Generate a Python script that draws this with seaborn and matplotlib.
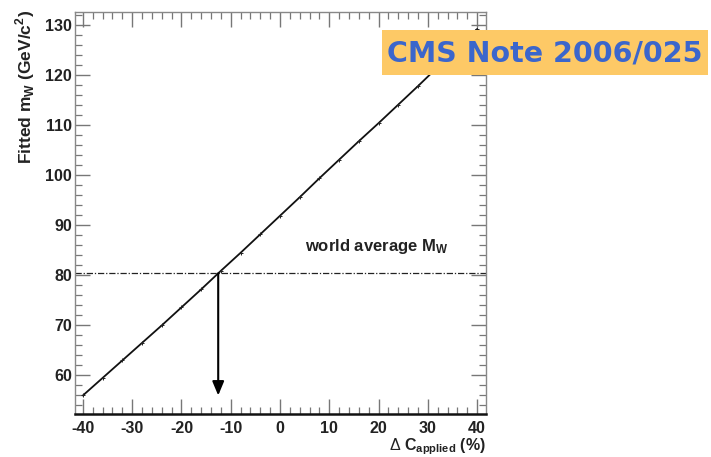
import numpy as np
import pandas as pd
import matplotlib
matplotlib.use("Agg")
import matplotlib.pyplot as plt
from matplotlib.patches import Rectangle
from matplotlib.ticker import MultipleLocator
import seaborn as sns

# Calibration scan: applied jet-energy shift vs. fitted W mass
delta_c_applied = [-40, -36, -32, -28, -24, -20, -16, -12, -8, -4, 0,
                   4, 8, 12, 16, 20, 24, 28, 32, 36, 40]
fitted_mw = [56.0, 59.5, 63.0, 66.5, 70.0, 73.6, 77.2, 80.9, 84.5, 88.2, 91.9,
             95.6, 99.4, 103.1, 106.8, 110.4, 114.1, 117.8, 121.6, 125.4, 129.2]
world_avg_mw = 80.4
arrow_end_mw = 56.0

x_ticks = [-40, -30, -20, -10, 0, 10, 20, 30, 40]
y_ticks = [60, 70, 80, 90, 100, 110, 120, 130]

df = pd.DataFrame({"dc": delta_c_applied, "mw": fitted_mw})

sns.set_style("ticks")
plt.rcParams["font.family"] = ["Liberation Sans", "DejaVu Sans"]
plt.rcParams["mathtext.fontset"] = "custom"
plt.rcParams["mathtext.rm"] = "Liberation Sans"
plt.rcParams["mathtext.bf"] = "Liberation Sans:bold"

fig = plt.figure(figsize=(7.11, 4.57), dpi=100)
ax = fig.add_axes([75 / 711, 1 - 414 / 457, (486 - 75) / 711, (414 - 12) / 457])

sns.lineplot(data=df, x="dc", y="mw", ax=ax, color="#111111", lw=1.3,
             marker="+", markersize=3.5, markeredgewidth=0.7,
             markeredgecolor="#222222", legend=False)

ax.axhline(world_avg_mw, color="#222222", lw=0.9, ls=(0, (5, 1.5, 1, 1.5)))

dc_at_world = np.interp(world_avg_mw, fitted_mw, delta_c_applied)
ax.annotate("", xy=(dc_at_world, arrow_end_mw), xytext=(dc_at_world, world_avg_mw),
            arrowprops=dict(arrowstyle="-|>,head_length=0.6,head_width=0.25",
                            color="black", lw=1.5,
                            mutation_scale=14, shrinkA=0, shrinkB=0))

ax.text(5.0, 84.8, r"world average $\mathbf{M_W}$", fontsize=12,
        fontweight="bold", color="#222222", ha="left", va="baseline")

ax.set_xlim(-41.6, 41.8)
ax.set_ylim(52.3, 132.6)
ax.set_xticks(x_ticks)
ax.set_yticks(y_ticks)
ax.set_xticklabels([str(t) for t in x_ticks], fontweight="bold")
ax.set_yticklabels([str(t) for t in y_ticks], fontweight="bold")
ax.xaxis.set_minor_locator(MultipleLocator(2))
ax.yaxis.set_minor_locator(MultipleLocator(2))
ax.tick_params(which="both", direction="in", top=True, right=True,
               colors="#777777", labelcolor="#222222", labelsize=11.5)
ax.tick_params(which="major", length=11, width=1.0)
ax.tick_params(which="minor", length=5, width=0.9)
ax.tick_params(axis="x", pad=5)
ax.tick_params(axis="y", pad=2)

for side in ["left", "top", "right"]:
    ax.spines[side].set_color("#888888")
    ax.spines[side].set_linewidth(1.0)
ax.spines["bottom"].set_color("#111111")
ax.spines["bottom"].set_linewidth(1.8)

ax.set_xlabel(r"$\Delta$ C$_\mathregular{applied}$ (%)", fontsize=11.5,
              fontweight="bold", color="#222222", loc="right", labelpad=0)
ax.set_ylabel(r"Fitted m$_\mathregular{W}$ (GeV/c$^\mathregular{2}$)", fontsize=12.5,
              fontweight="bold", color="#222222", loc="top", labelpad=6)
ax.yaxis.set_label_coords(-0.092, 1.005)

# publication tag
fig.add_artist(Rectangle((382 / 711, 1 - 75 / 457), (708 - 382) / 711, 45 / 457,
                         transform=fig.transFigure, facecolor="#fdc966",
                         edgecolor="none", zorder=5))
fig.text(545 / 711, 1 - 53 / 457, "CMS Note 2006/025", fontsize=20.5,
         family="DejaVu Sans", fontweight="bold", color="#3b66cc",
         ha="center", va="center", zorder=6)

fig.savefig("out.png", dpi=100)
